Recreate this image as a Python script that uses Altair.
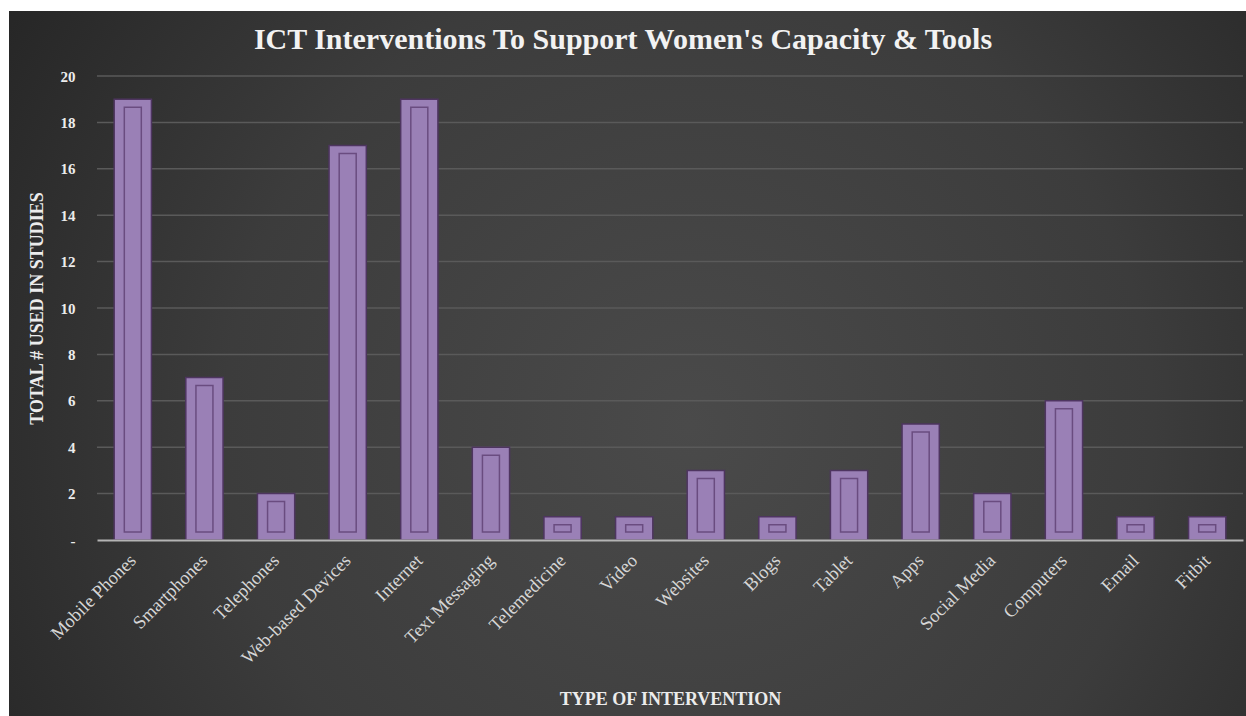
import altair as alt
import pandas as pd

categories = ["Mobile Phones", "Smartphones", "Telephones", "Web-based Devices", "Internet",
              "Text Messaging", "Telemedicine", "Video", "Websites", "Blogs", "Tablet", "Apps",
              "Social Media", "Computers", "Email", "Fitbit"]
counts = [19, 7, 2, 17, 19, 4, 1, 1, 3, 1, 3, 5, 2, 6, 1, 1]
grid_values = [2, 4, 6, 8, 10, 12, 14, 16, 18, 20]
title_text = ["ICT Interventions To Support Women's Capacity & Tools"]

df = pd.DataFrame({"category": categories, "value": counts})
grid_df = pd.DataFrame({"value": grid_values})
bg_df = pd.DataFrame({"k": [0]})
title_df = pd.DataFrame({"t": title_text})

FONT = "Liberation Serif"
W, H = 1146, 464
PAD_L, PAD_T = 97, 76

xenc = alt.X("category:N", sort=categories, scale=alt.Scale(paddingInner=0.48, paddingOuter=0.24),
             axis=alt.Axis(title="TYPE OF INTERVENTION", labelAngle=315, labelAlign="right",
                           labelBaseline="middle", labelPadding=17, ticks=False,
                           domainColor="#b4b4b4", domainWidth=2, labelColor="#d6d6d6",
                           labelFont=FONT, labelFontSize=18.5, titleFont=FONT, titleFontSize=18,
                           titleFontWeight="bold", titleColor="#ececec", titlePadding=24,
                           zindex=2))
yenc = alt.Y("value:Q", scale=alt.Scale(domain=[0, 20]),
             axis=alt.Axis(title="TOTAL # USED IN STUDIES", values=list(range(0, 21, 2)),
                           labelExpr="datum.value == 0 ? '-' : datum.label",
                           grid=False, domain=False, ticks=False, labelPadding=22,
                           labelColor="#ececec", labelFont=FONT, labelFontSize=15,
                           labelFontWeight="bold", titleFont=FONT, titleFontSize=18,
                           titleFontWeight="bold", titleColor="#ececec", titlePadding=14,
                           zindex=2))

bg = alt.Chart(bg_df).mark_rect(
    fill=alt.Gradient(gradient="radial", x1=0.55, y1=0.55, r1=0.0, x2=0.55, y2=0.55, r2=0.75,
                      stops=[alt.GradientStop(color="#4a4a4a", offset=0),
                             alt.GradientStop(color="#3c3c3c", offset=0.5),
                             alt.GradientStop(color="#1e1e1e", offset=1)])
).encode(x=alt.value(9 - PAD_L), x2=alt.value(1246 - PAD_L),
         y=alt.value(11 - PAD_T), y2=alt.value(716 - PAD_T))

title = alt.Chart(title_df).mark_text(font=FONT, fontSize=30, fontWeight="bold",
                                      color="#f2f2f2", baseline="middle", align="center").encode(
    text="t:N", x=alt.value(623 - PAD_L), y=alt.value(40 - PAD_T))

grid = alt.Chart(grid_df).mark_rule(color="#5a5a5a", strokeWidth=1.5).encode(y=alt.Y("value:Q"))

bars = alt.Chart(df).mark_bar(fill="#9a80b6", stroke="#4e3560", strokeWidth=1.5).encode(
    x=xenc, y=yenc)

inner = alt.Chart(df).mark_bar(fill="transparent", stroke="#6a4c80", strokeWidth=1.5,
                               size=17, yOffset=8, y2Offset=-8).encode(
    x=alt.X("category:N", sort=categories), y=alt.Y("value:Q"), y2=alt.datum(0))

chart = alt.layer(bg, title, grid, bars, inner).properties(
    width=W, height=H,
    autosize=alt.AutoSizeParams(type="none"),
    padding={"left": PAD_L, "top": PAD_T, "right": 3, "bottom": 176},
    background="white",
).configure_view(stroke=None)

chart.save("out.html", embed_options={"renderer": "svg", "actions": False})
